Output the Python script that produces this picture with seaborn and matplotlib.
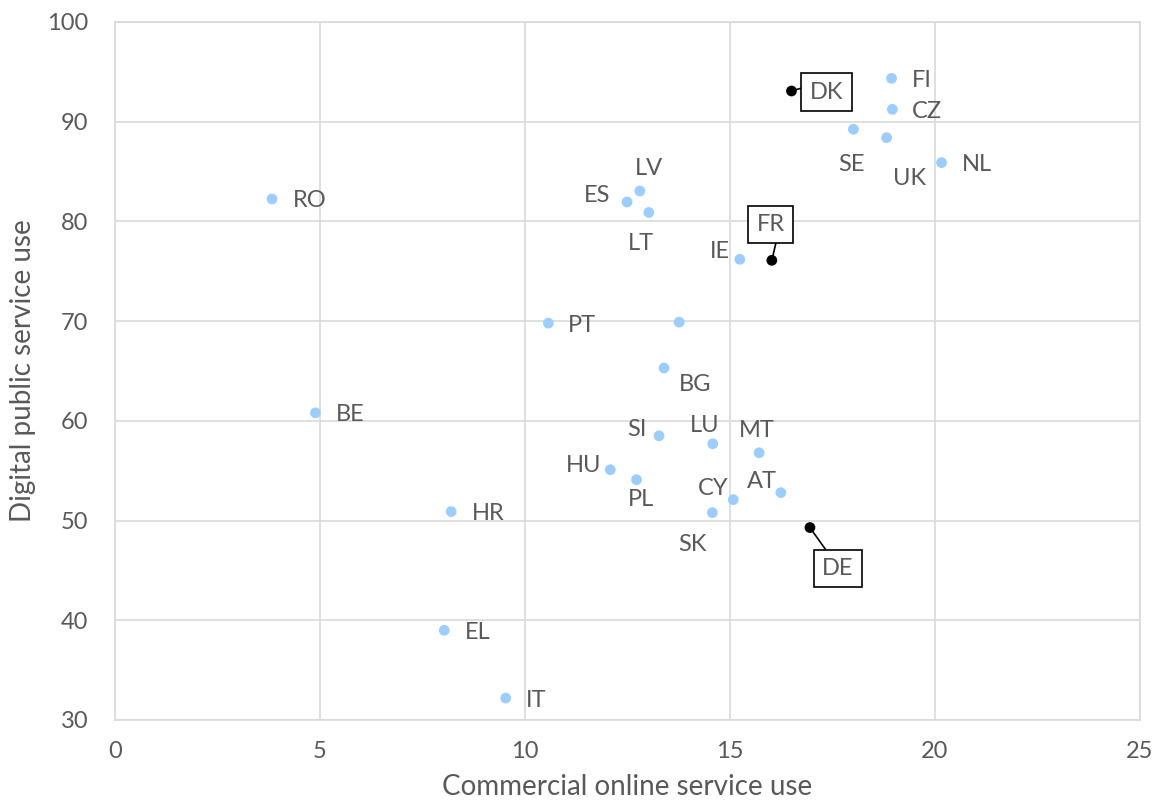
import matplotlib
matplotlib.use("Agg")
import matplotlib.pyplot as plt
import seaborn as sns
import pandas as pd

countries = ["FI", "CZ", "SE", "UK", "NL", "DK", "RO", "LV", "ES", "LT", "IE", "FR",
             "PT", "", "BG", "BE", "SI", "LU", "MT", "HU", "PL", "CY", "AT", "SK",
             "DE", "HR", "EL", "IT"]
commercial = [18.94, 18.96, 18.01, 18.82, 20.16, 16.50, 3.83, 12.80, 12.49, 13.02, 15.24, 16.02,
              10.57, 13.76, 13.39, 4.89, 13.27, 14.58, 15.71, 12.08, 12.72, 15.08, 16.24, 14.57,
              16.95, 8.20, 8.03, 9.53]
public = [94.35, 91.24, 89.24, 88.40, 85.90, 93.08, 82.25, 83.05, 81.95, 80.90, 76.20, 76.10,
          69.80, 69.90, 65.30, 60.80, 58.50, 57.70, 56.80, 55.10, 54.10, 52.10, 52.80, 50.80,
          49.30, 50.90, 39.00, 32.20]
highlighted = ["DK", "FR", "DE"]

df = pd.DataFrame({"country": countries, "commercial": commercial, "public": public})
df["group"] = ["hl" if c in highlighted else "other" for c in countries]

sns.set_theme(style="white")
plt.rcParams["font.family"] = ["Lato", "DejaVu Sans"]
TXT = "#595959"

fig = plt.figure(figsize=(11.57, 8.07), dpi=100)
ax = fig.add_axes([115/1157, 1 - 720/807, (1140 - 115)/1157, (720 - 22)/807])

sns.scatterplot(data=df, x="commercial", y="public", hue="group",
                palette={"other": "#9ccdfc", "hl": "#000000"},
                s=60, edgecolor="none", legend=False, ax=ax, zorder=3)

# label offsets in pixels (dx, dy with y up), alignment
offsets = {
    "FI": (20, -2, "left"), "CZ": (20, -2, "left"), "SE": (-2, -35, "center"),
    "UK": (23, -41, "center"), "NL": (20, -2, "left"), "RO": (21, -2, "left"),
    "LV": (9, 23, "center"), "ES": (-17, 6, "right"), "LT": (-8, -31, "center"),
    "IE": (-10, 8, "right"), "PT": (20, -2, "left"), "BG": (31, -16, "center"),
    "BE": (20, -2, "left"), "SI": (-12, 6, "right"), "LU": (-8, 18, "center"),
    "MT": (-2, 22, "center"), "HU": (-9, 4, "right"), "PL": (4, -20, "center"),
    "CY": (-20, 11, "center"), "AT": (-19, 11, "center"), "SK": (-20, -32, "center"),
    "HR": (21, -2, "left"), "EL": (21, -2, "left"), "IT": (20, -2, "left"),
}
for c, x, y in zip(countries, commercial, public):
    if c in offsets:
        dx, dy, ha = offsets[c]
        ax.annotate(c, (x, y), xytext=(dx, dy), textcoords="offset pixels",
                    ha=ha, va="center", fontsize=17, color=TXT, zorder=4)

# callout offsets (dx, dy) and where the pointer leaves the box (relpos)
callouts = {"DK": (35, -1, (0.0, 0.8)), "FR": (-1, 36, (0.75, 0.0)), "DE": (28, -41, (0.3, 1.0))}
for c, x, y in zip(countries, commercial, public):
    if c in callouts:
        dx, dy, rp = callouts[c]
        ax.annotate(c, (x, y), xytext=(dx, dy), textcoords="offset pixels",
                    ha="center", va="center", fontsize=17, color=TXT, zorder=5,
                    bbox=dict(boxstyle="square,pad=0.35", fc="white", ec="black", lw=1.2),
                    arrowprops=dict(arrowstyle="-", color="black", lw=1.2,
                                    shrinkA=0, shrinkB=3, relpos=rp))

ax.set_xlim(0, 25)
ax.set_ylim(30, 100)
ax.set_xticks([0, 5, 10, 15, 20, 25])
ax.set_yticks([30, 40, 50, 60, 70, 80, 90, 100])
ax.grid(True, color="#d9d9d9", lw=1.2)
ax.set_axisbelow(True)
for s in ax.spines.values():
    s.set_color("#d9d9d9")
    s.set_linewidth(1.2)
ax.tick_params(axis="both", length=0, labelsize=17, labelcolor=TXT)
ax.tick_params(axis="y", pad=19)
ax.tick_params(axis="x", pad=15)
ax.set_xlabel("Commercial online service use", fontsize=20, color=TXT, labelpad=9)
ax.set_ylabel("Digital public service use", fontsize=20, color=TXT, labelpad=8)

fig.savefig("out.png", dpi=100)
